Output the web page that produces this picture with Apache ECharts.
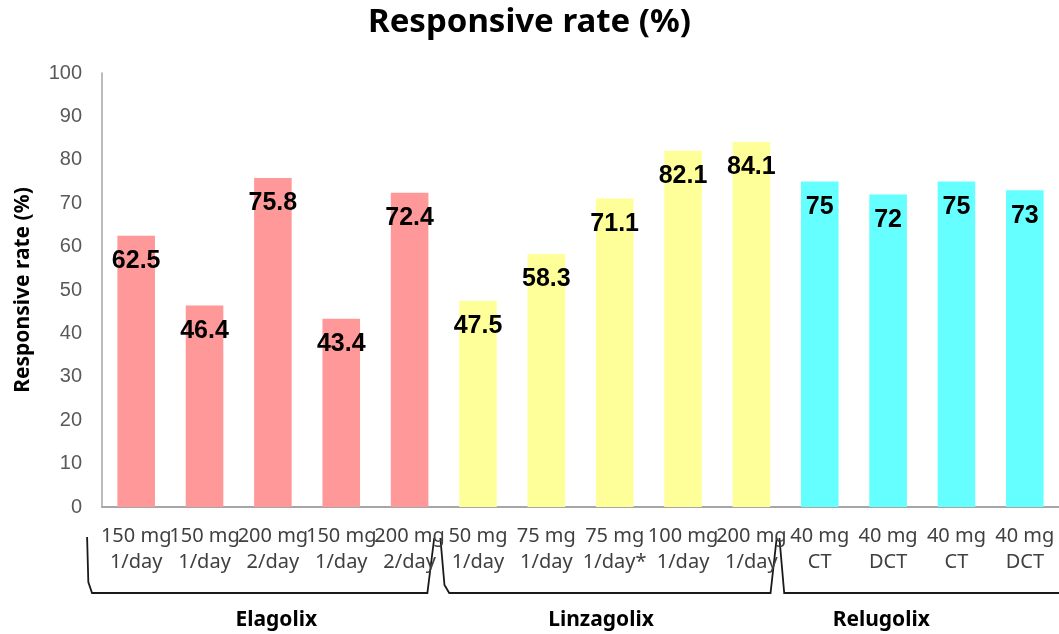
<!DOCTYPE html>
<html>
<head>
<meta charset="utf-8">
<script src="https://cdn.jsdelivr.net/npm/echarts@6/dist/echarts.min.js"></script>
<style>
html,body{margin:0;padding:0;background:#fff;}
#c{width:1059px;height:634px;}
</style>
</head>
<body>
<div id="c"></div>
<script>
// ---- data ----
var doses = ['150 mg', '150 mg', '200 mg', '150 mg', '200 mg', '50 mg', '75 mg', '75 mg', '100 mg', '200 mg', '40 mg', '40 mg', '40 mg', '40 mg'];
var regimens = ['1/day', '1/day', '2/day', '1/day', '2/day', '1/day', '1/day', '1/day*', '1/day', '1/day', 'CT', 'DCT', 'CT', 'DCT'];
var values = [62.5, 46.4, 75.8, 43.4, 72.4, 47.5, 58.3, 71.1, 82.1, 84.1, 75, 72, 75, 73];
var groupOf = [0, 0, 0, 0, 0, 1, 1, 1, 1, 1, 2, 2, 2, 2];
var groupNames = ['Elagolix', 'Linzagolix', 'Relugolix'];
var groupColors = ['#FF9999', '#FFFF99', '#66FFFF'];
var yTicks = [0, 10, 20, 30, 40, 50, 60, 70, 80, 90, 100];

var categories = doses.map(function (d, i) { return d + '\n' + regimens[i]; });

var chart = echarts.init(document.getElementById('c'));
var option = {
  animation: false,
  backgroundColor: '#ffffff',
  title: {
    text: 'Responsive rate (%)',
    left: 'center',
    top: 1,
    textStyle: { fontFamily: 'Noto Sans', fontWeight: 'bold', fontSize: 33, color: '#000' }
  },
  grid: { left: 102, right: -7, top: 73, bottom: 127, containLabel: false },
  xAxis: {
    type: 'category',
    data: categories,
    axisTick: { show: false },
    axisLine: { lineStyle: { color: '#A6A6A6', width: 2 } },
    axisLabel: {
      interval: 0,
      margin: 16,
      fontFamily: 'Noto Sans',
      fontSize: 20,
      lineHeight: 26,
      color: '#404040'
    }
  },
  yAxis: {
    type: 'value',
    min: yTicks[0],
    max: yTicks[yTicks.length - 1],
    interval: 10,
    name: 'Responsive rate (%)',
    nameLocation: 'middle',
    nameGap: 68,
    nameTextStyle: { fontFamily: 'Noto Sans', fontWeight: 'bold', fontSize: 21, color: '#000' },
    splitLine: { show: false },
    axisTick: { show: false },
    axisLine: { show: true, lineStyle: { color: '#A6A6A6', width: 1.5 } },
    axisLabel: { margin: 20, fontFamily: 'Liberation Sans', fontSize: 20, color: '#595959' }
  },
  series: [{
    type: 'bar',
    barCategoryGap: '45%',
    data: values.map(function (v, i) {
      return { value: v, itemStyle: { color: groupColors[groupOf[i]] } };
    }),
    label: {
      show: true,
      position: 'insideTop',
      distance: 13,
      fontFamily: 'Liberation Sans',
      fontWeight: 'bold',
      fontSize: 25,
      lineHeight: 25,
      color: '#000'
    }
  }]
};
chart.setOption(option);

// ---- group brackets and names, positioned from the category axis ----
function xAt(u) {
  var p0 = chart.convertToPixel({ xAxisIndex: 0 }, 0);
  var p1 = chart.convertToPixel({ xAxisIndex: 0 }, 1);
  return p0 + (p1 - p0) * u;
}
var yTop = 538, yBot = 593;
function pts(arr) { return arr.map(function (p) { return [xAt(p[0]), p[1]]; }); }
var bracketShapes = [
  [[-0.718, 537], [-0.70, 582], [-0.646, yBot], [4.26, yBot], [4.36, yTop]],
  [[4.45, yTop], [4.51, 585], [4.58, yBot], [9.28, yBot], [9.37, yTop]],
  [[9.41, yTop], [9.48, yBot], [13.6, yBot]]
];
var labelPos = [2.05, 6.8, 10.9];
var graphics = [];
bracketShapes.forEach(function (b) {
  graphics.push({
    type: 'polyline',
    shape: { points: pts(b) },
    style: { stroke: '#1a1a1a', lineWidth: 1.8, fill: null }
  });
});
groupNames.forEach(function (n, i) {
  graphics.push({
    type: 'text',
    x: xAt(labelPos[i]),
    y: 620,
    style: {
      text: n, fontFamily: 'Noto Sans', fontWeight: 'bold', fontSize: 21,
      fill: '#000', align: 'center', verticalAlign: 'middle'
    }
  });
});
chart.setOption({ graphic: graphics });
</script>
</body>
</html>
